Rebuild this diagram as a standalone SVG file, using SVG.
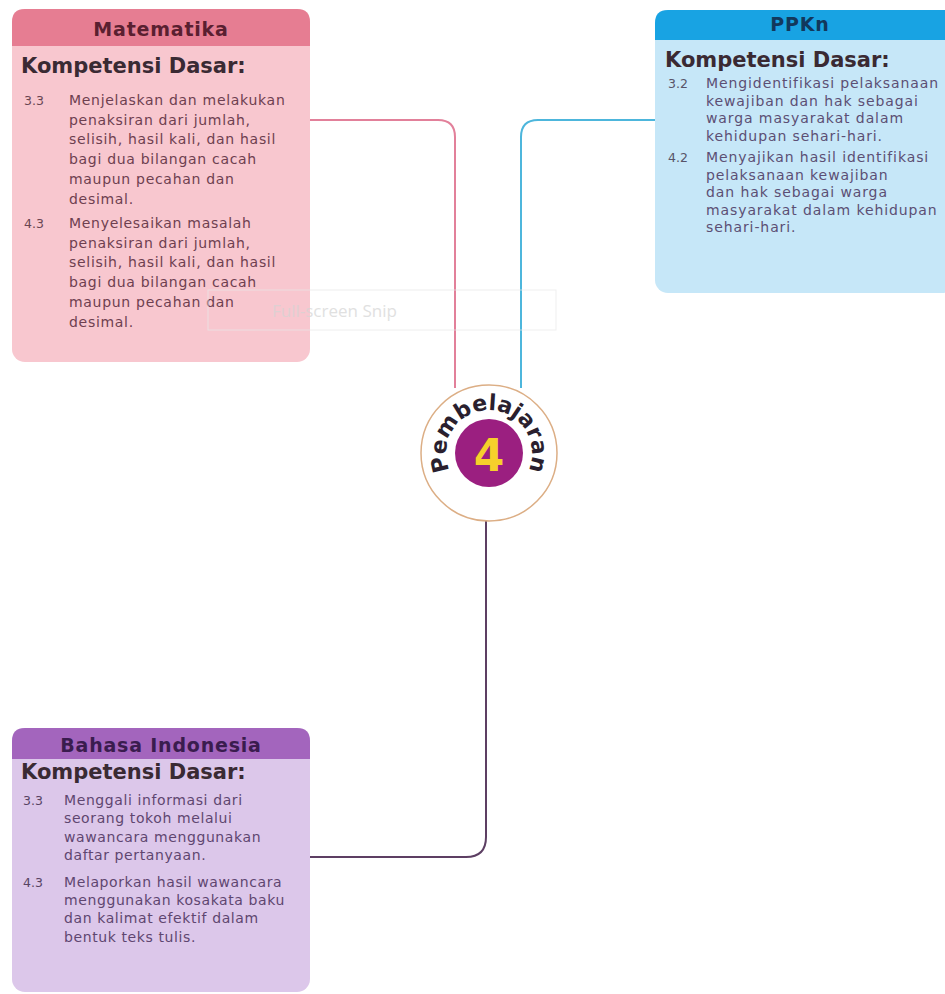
<svg xmlns="http://www.w3.org/2000/svg" width="945" height="994" viewBox="0 0 945 994">
  <style>
    .title { font-family: "DejaVu Sans", "Liberation Sans", sans-serif; font-weight: bold; font-size: 19px; text-anchor: middle; letter-spacing: 0.8px; }
    .kd { font-family: "DejaVu Sans", "Liberation Sans", sans-serif; font-weight: bold; font-size: 21px; fill: #3a2a33; }
    .num { font-family: "DejaVu Sans", "Liberation Sans", sans-serif; font-size: 12.5px; }
    .body { font-family: "DejaVu Sans", "Liberation Sans", sans-serif; font-size: 14px; }
    .link { fill: none; stroke-width: 2; }
  </style>
  <defs>
    <path id="arc" d="M 489 496 A 43 43 0 1 1 489 410 A 43 43 0 1 1 489 496"/>
  </defs>

  <rect width="945" height="994" fill="#ffffff"/>

  <!-- connectors -->
  <g id="connectors">
    <path class="link" stroke="#e2809a" d="M 310 120 H 438 Q 455 120 455 137 V 388"/>
    <path class="link" stroke="#4db6dc" d="M 655 120 H 538 Q 521 120 521 137 V 388"/>
    <path class="link" stroke="#5d3f63" d="M 486 520 V 837 Q 486 857 466 857 H 310"/>
  </g>

  <!-- Matematika -->
  <g id="matematika">
    <rect x="12" y="9" width="298" height="353" rx="13" fill="#f8c7cf"/>
    <path d="M 12 46 V 22 Q 12 9 25 9 H 297 Q 310 9 310 22 V 46 Z" fill="#e67d92"/>
    <text class="title" x="161" y="36" fill="#5a1f30">Matematika</text>
    <text class="kd" x="21" y="73">Kompetensi Dasar:</text>
    <g class="num" fill="#6a4652">
      <text x="24" y="105">3.3</text>
      <text x="24" y="228">4.3</text>
    </g>
    <g class="body" fill="#6e4050" letter-spacing="0.7">
      <text x="69" y="105">Menjelaskan dan melakukan</text>
      <text x="69" y="124.7">penaksiran dari jumlah,</text>
      <text x="69" y="144.4">selisih, hasil kali, dan hasil</text>
      <text x="69" y="164">bagi dua bilangan cacah</text>
      <text x="69" y="183.8">maupun pecahan dan</text>
      <text x="69" y="203.5">desimal.</text>
      <text x="69" y="228">Menyelesaikan masalah</text>
      <text x="69" y="247.7">penaksiran dari jumlah,</text>
      <text x="69" y="267.4">selisih, hasil kali, dan hasil</text>
      <text x="69" y="287">bagi dua bilangan cacah</text>
      <text x="69" y="306.8">maupun pecahan dan</text>
      <text x="69" y="326.5">desimal.</text>
    </g>
  </g>

  <!-- PPKn -->
  <g id="ppkn">
    <rect x="655" y="10" width="300" height="283" rx="13" fill="#c6e7f8"/>
    <path d="M 655 40 V 23 Q 655 10 668 10 H 955 V 40 Z" fill="#18a3e3"/>
    <text class="title" x="800" y="31" fill="#12385c">PPKn</text>
    <text class="kd" x="665" y="67">Kompetensi Dasar:</text>
    <g class="num" fill="#585468">
      <text x="668" y="88">3.2</text>
      <text x="668" y="162">4.2</text>
    </g>
    <g class="body" fill="#5c4f74" letter-spacing="0.9">
      <text x="706" y="88">Mengidentifikasi pelaksanaan</text>
      <text x="706" y="105.5">kewajiban dan hak sebagai</text>
      <text x="706" y="123">warga masyarakat dalam</text>
      <text x="706" y="140.5">kehidupan sehari-hari.</text>
      <text x="706" y="162">Menyajikan hasil identifikasi</text>
      <text x="706" y="179.5">pelaksanaan kewajiban</text>
      <text x="706" y="197">dan hak sebagai warga</text>
      <text x="706" y="214.5">masyarakat dalam kehidupan</text>
      <text x="706" y="232">sehari-hari.</text>
    </g>
  </g>

  <!-- Bahasa Indonesia -->
  <g id="bahasa-indonesia">
    <rect x="12" y="728" width="298" height="264" rx="13" fill="#dcc7ea"/>
    <path d="M 12 759 V 741 Q 12 728 25 728 H 297 Q 310 728 310 741 V 759 Z" fill="#a365bd"/>
    <text class="title" x="161" y="752" fill="#3a1c4e">Bahasa Indonesia</text>
    <text class="kd" x="21" y="779">Kompetensi Dasar:</text>
    <g class="num" fill="#584464">
      <text x="23" y="805">3.3</text>
      <text x="23" y="887">4.3</text>
    </g>
    <g class="body" fill="#5f4670" letter-spacing="0.6">
      <text x="64" y="805">Menggali informasi dari</text>
      <text x="64" y="823.3">seorang tokoh melalui</text>
      <text x="64" y="841.6">wawancara menggunakan</text>
      <text x="64" y="860">daftar pertanyaan.</text>
      <text x="64" y="887">Melaporkan hasil wawancara</text>
      <text x="64" y="905">menggunakan kosakata baku</text>
      <text x="64" y="923">dan kalimat efektif dalam</text>
      <text x="64" y="942">bentuk teks tulis.</text>
    </g>
  </g>

  <!-- Pembelajaran 4 badge -->
  <g id="pembelajaran">
    <circle cx="489" cy="453" r="68" fill="#ffffff" stroke="#dcae85" stroke-width="1.5"/>
    <circle cx="489" cy="453" r="34" fill="#9b1f80"/>
    <text x="489" y="471" font-family="DejaVu Sans, Liberation Sans, sans-serif" font-weight="bold" font-size="44" fill="#f6d02b" text-anchor="middle">4</text>
    <text font-family="DejaVu Sans, Liberation Sans, sans-serif" font-weight="bold" font-size="22" fill="#2a1f2e">
      <textPath href="#arc" startOffset="50%" text-anchor="middle">Pembelajaran</textPath>
    </text>
  </g>

  <!-- screen-capture watermark, drawn over everything -->
  <g id="watermark" opacity="0.7">
    <rect x="208" y="290" width="348" height="40" fill="none" stroke="#e8e8e8" stroke-width="1"/>
    <text x="272" y="317" font-family="Open Sans, Liberation Sans, sans-serif" font-size="17" fill="#d4d4d4">Full-screen Snip</text>
  </g>
</svg>
